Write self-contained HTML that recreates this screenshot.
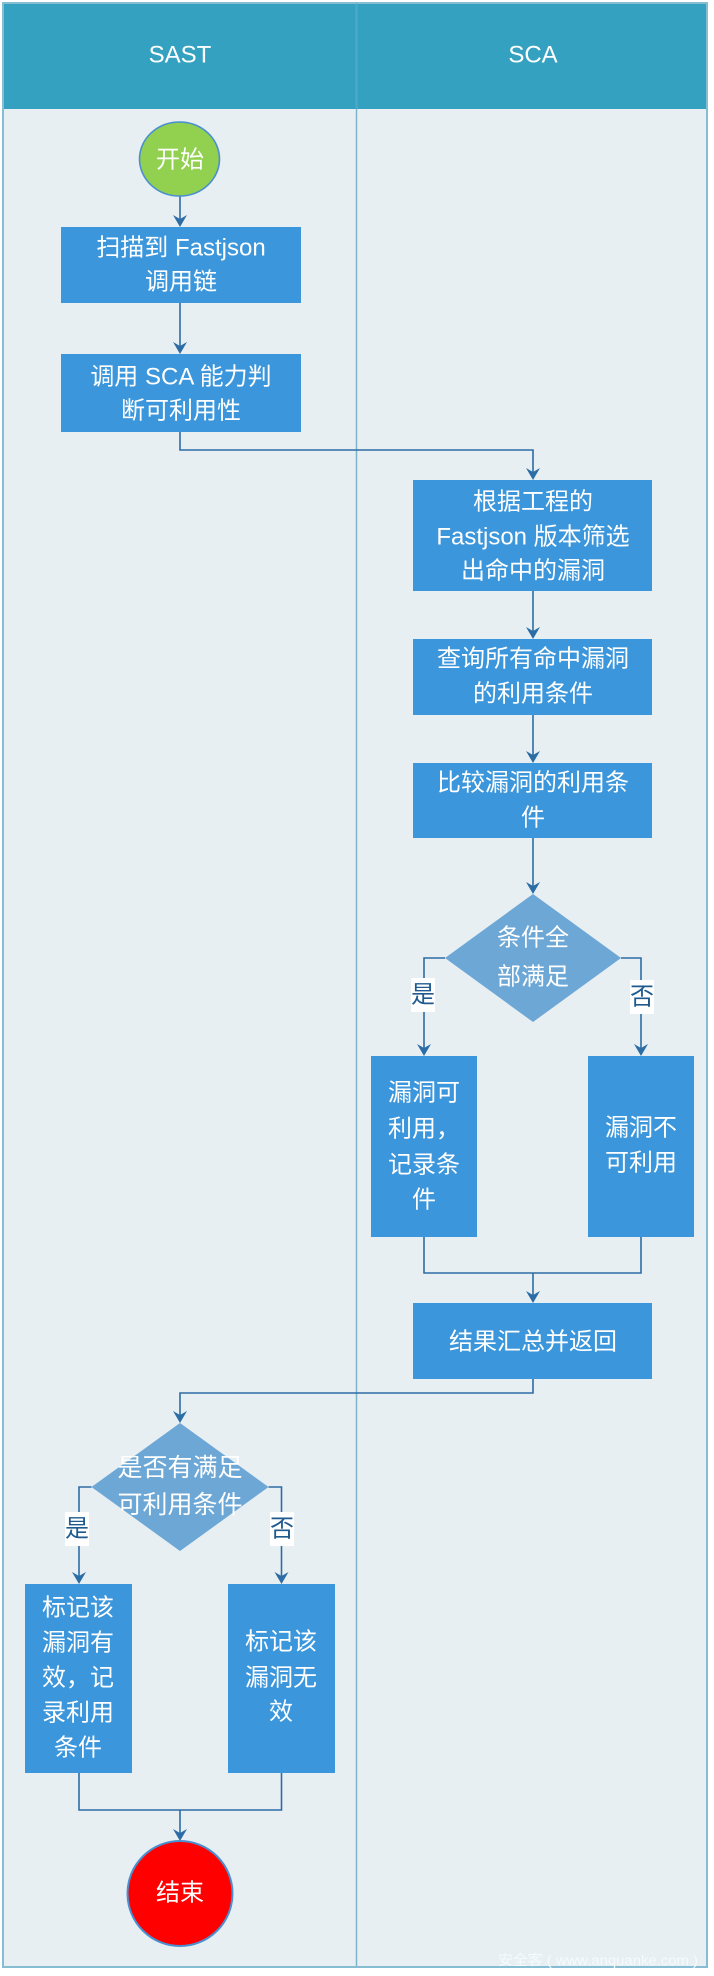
<!DOCTYPE html>
<html><head><meta charset="utf-8"><style>
html,body{margin:0;padding:0;background:#fff;}
svg{display:block;}
text{font-family:"Liberation Sans","Noto Sans CJK SC",sans-serif;}
</style></head><body>
<svg width="714" height="1976" viewBox="0 0 714 1976" xmlns="http://www.w3.org/2000/svg">
<rect x="0" y="0" width="714" height="1976" fill="#ffffff"/>
<rect x="2" y="109" width="706" height="1859" fill="#e7eff3"/>
<rect x="2" y="2" width="706" height="107" fill="#35a1c0"/>
<line x1="356.5" y1="2" x2="356.5" y2="1968" stroke="#7fb5ca" stroke-width="1.5"/>
<rect x="3" y="3" width="704" height="1964" fill="none" stroke="#86bdd2" stroke-width="2"/>
<line x1="356.5" y1="3" x2="356.5" y2="109" stroke="#4aa9c6" stroke-width="1"/>
<g fill="#ffffff" font-size="24" text-anchor="middle" dominant-baseline="central">
<text x="180" y="55">SAST</text>
<text x="533" y="55">SCA</text>
</g>

<!-- connectors -->
<g fill="none" stroke="#2d6da5" stroke-width="1.6">
<path d="M180 196 V222"/>
<path d="M180 303 V349"/>
<path d="M180 432 V450 H533 V475"/>
<path d="M533 591 V634"/>
<path d="M533 715 V758"/>
<path d="M533 838 V889"/>
<path d="M445 958 H424 V1051"/>
<path d="M621 958 H641 V1051"/>
<path d="M424 1237 V1273 H641 V1237"/>
<path d="M533 1273 V1298"/>
<path d="M533 1379 V1393 H180 V1418"/>
<path d="M91.5 1487 H79 V1579"/>
<path d="M268.5 1487 H281.5 V1579"/>
<path d="M79 1773 V1810 H281.5 V1773"/>
<path d="M180 1810 V1836"/>
</g>
<g fill="#2d6da5">
<path d="M180 227 L173 215 L180 219 L187 215 Z"/>
<path d="M180 354 L173 342 L180 346 L187 342 Z"/>
<path d="M533 480 L526 468 L533 472 L540 468 Z"/>
<path d="M533 639 L526 627 L533 631 L540 627 Z"/>
<path d="M533 763 L526 751 L533 755 L540 751 Z"/>
<path d="M533 894 L526 882 L533 886 L540 882 Z"/>
<path d="M424 1056 L417 1044 L424 1048 L431 1044 Z"/>
<path d="M641 1056 L634 1044 L641 1048 L648 1044 Z"/>
<path d="M533 1303 L526 1291 L533 1295 L540 1291 Z"/>
<path d="M180 1423 L173 1411 L180 1415 L187 1411 Z"/>
<path d="M79 1584 L72 1572 L79 1576 L86 1572 Z"/>
<path d="M281.5 1584 L274.5 1572 L281.5 1576 L288.5 1572 Z"/>
<path d="M180 1841 L173 1829 L180 1833 L187 1829 Z"/>
</g>

<!-- start -->
<ellipse cx="179.5" cy="159" rx="40" ry="37" fill="#92d050" stroke="#4a8fd0" stroke-width="1.6"/>

<!-- boxes -->
<g fill="#3b96db">
<rect x="61" y="227" width="240" height="76"/>
<rect x="61" y="354" width="240" height="78"/>
<rect x="413" y="480" width="239" height="111"/>
<rect x="413" y="639" width="239" height="76"/>
<rect x="413" y="763" width="239" height="75"/>
<rect x="371" y="1056" width="106" height="181"/>
<rect x="588" y="1056" width="106" height="181"/>
<rect x="413" y="1303" width="239" height="76"/>
<rect x="25" y="1584" width="107" height="189"/>
<rect x="228" y="1584" width="107" height="189"/>
</g>
<g fill="#6ca7d6">
<polygon points="533,894 621,958 533,1022 445,958"/>
<polygon points="180,1423 268.5,1487 180,1551 91.5,1487"/>
</g>

<!-- end -->
<ellipse cx="180" cy="1893.5" rx="52.5" ry="52.5" fill="#ff0000" stroke="#4a8fd0" stroke-width="2"/>

<!-- label backgrounds -->
<g fill="#ffffff">
<rect x="411" y="978" width="24" height="34"/>
<rect x="630" y="980" width="24" height="34"/>
<rect x="65" y="1512" width="24" height="34"/>
<rect x="270" y="1512" width="24" height="34"/>
</g>
<g fill="#1f5a8f" font-size="24" text-anchor="middle" dominant-baseline="central">
<text x="423" y="995">是</text>
<text x="642" y="997">否</text>
<text x="77" y="1529">是</text>
<text x="282" y="1529">否</text>
</g>

<!-- texts -->
<g fill="#ffffff" font-size="24" text-anchor="middle" dominant-baseline="central">
<text x="180" y="160">开始</text>
<text x="181" y="248">扫描到 Fastjson</text>
<text x="181" y="282">调用链</text>
<text x="181" y="377">调用 SCA 能力判</text>
<text x="181" y="411">断可利用性</text>
<text x="533" y="502">根据工程的</text>
<text x="533" y="537">Fastjson 版本筛选</text>
<text x="533" y="571">出命中的漏洞</text>
<text x="533" y="659">查询所有命中漏洞</text>
<text x="533" y="694">的利用条件</text>
<text x="533" y="783">比较漏洞的利用条</text>
<text x="533" y="818">件</text>
<text x="533" y="938">条件全</text>
<text x="533" y="977">部满足</text>
<text x="424" y="1093">漏洞可</text>
<text x="424" y="1129">利用，</text>
<text x="424" y="1165">记录条</text>
<text x="424" y="1200">件</text>
<text x="641" y="1128">漏洞不</text>
<text x="641" y="1163">可利用</text>
<text x="533" y="1342">结果汇总并返回</text>
<text x="180" y="1468" font-size="25">是否有满足</text>
<text x="180" y="1505" font-size="25">可利用条件</text>
<text x="78" y="1608">标记该</text>
<text x="78" y="1643">漏洞有</text>
<text x="78" y="1678">效，记</text>
<text x="78" y="1713">录利用</text>
<text x="78" y="1748">条件</text>
<text x="281" y="1642">标记该</text>
<text x="281" y="1678">漏洞无</text>
<text x="281" y="1712">效</text>
<text x="180" y="1893">结束</text>
</g>
<text x="498" y="1960" font-size="14" fill="#f6fafc" dominant-baseline="central" textLength="200" lengthAdjust="spacingAndGlyphs">安全客 ( www.anquanke.com )</text>
</svg>
</body></html>
